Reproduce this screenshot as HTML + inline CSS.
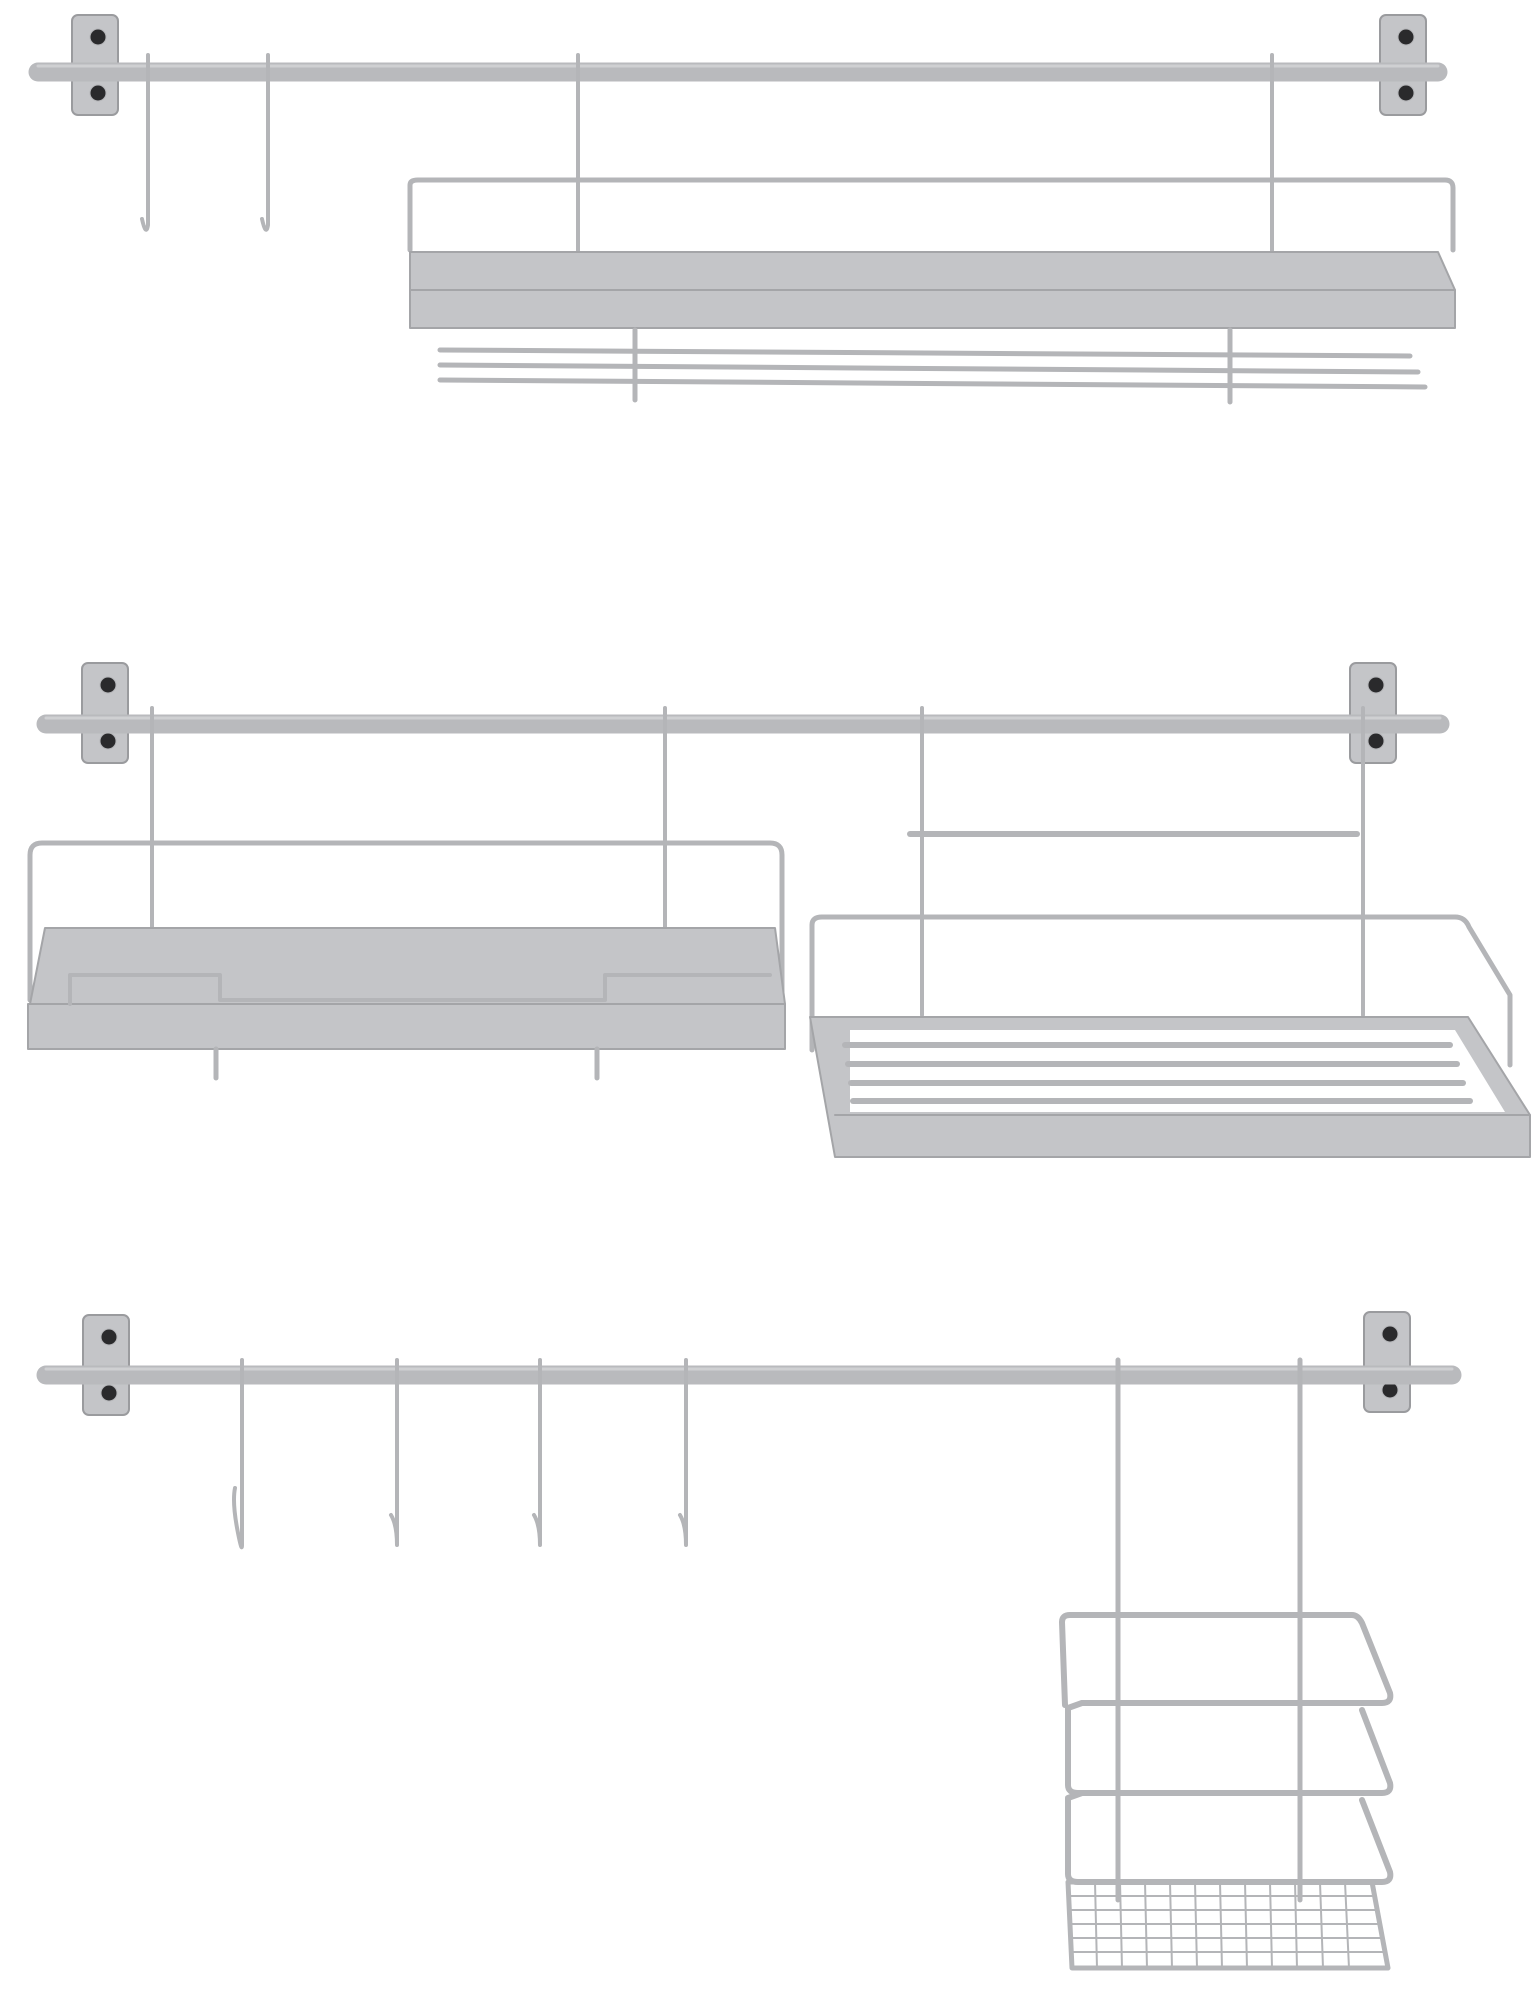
<!DOCTYPE html>
<html><head><style>html,body{margin:0;padding:0;background:#fff}svg{display:block}</style></head>
<body>
<svg width="1538" height="2000" viewBox="0 0 1538 2000" xmlns="http://www.w3.org/2000/svg">
<defs>
<g id="bracket">
<rect x="0" y="0" width="46" height="100" rx="6" fill="#c4c5c8" stroke="#9a9b9e" stroke-width="2"/>
<circle cx="26" cy="22" r="8" fill="#2a2a2c"/>
<circle cx="26" cy="78" r="8" fill="#2a2a2c"/>
</g>
</defs>
<g fill="none" stroke="#b4b5b8" stroke-linecap="round" stroke-linejoin="round">

<!-- ===== TOP ===== -->
<use href="#bracket" x="72" y="15"/>
<use href="#bracket" x="1380" y="15"/>
<line x1="38" y1="72" x2="1438" y2="72" stroke-width="19" stroke="#b9babd"/>
<line x1="38" y1="66" x2="1438" y2="66" stroke-width="3" stroke="#cfd0d2"/>
<path d="M148 55 V225 q-2 12 -6 -6" stroke-width="4"/>
<path d="M268 55 V225 q-2 12 -6 -6" stroke-width="4"/>
<path d="M578 55 V252" stroke-width="4"/>
<path d="M1272 55 V252" stroke-width="4"/>
<path d="M410 250 V185 q0 -5 8 -5 H1445 q8 0 8 8 V250" stroke-width="5"/>
<path d="M410 252 H1438 L1455 290 V328 H410 Z" fill="#c4c5c8" stroke="#a4a5a8" stroke-width="2"/>
<line x1="410" y1="290" x2="1455" y2="290" stroke="#a4a5a8" stroke-width="2"/>
<line x1="440" y1="350" x2="1410" y2="356" stroke-width="5"/>
<line x1="440" y1="365" x2="1418" y2="372" stroke-width="5"/>
<line x1="440" y1="380" x2="1425" y2="387" stroke-width="5"/>
<path d="M635 330 V400 M1230 330 V402" stroke-width="5"/>

<!-- ===== MIDDLE ===== -->
<use href="#bracket" x="82" y="663"/>
<use href="#bracket" x="1350" y="663"/>
<line x1="46" y1="724" x2="1440" y2="724" stroke-width="19" stroke="#b9babd"/>
<line x1="46" y1="718" x2="1440" y2="718" stroke-width="3" stroke="#cfd0d2"/>
<path d="M152 708 V1000 M665 708 V1000 M922 708 V1015 M1363 708 V1015" stroke-width="4"/>
<path d="M30 1000 V855 q0 -12 12 -12 H770 q12 0 12 12 V1000" stroke-width="5"/>
<path d="M45 928 H775 L785 1004 H30 Z" fill="#c4c5c8" stroke="#a4a5a8" stroke-width="2"/>
<rect x="28" y="1004" width="757" height="45" fill="#c4c5c8" stroke="#a4a5a8" stroke-width="2"/>
<path d="M70 1004 V975 H220 V1000 H605 V975 H770" stroke-width="4"/>
<path d="M216 1049 V1078 M597 1049 V1078" stroke-width="5"/>
<line x1="910" y1="834" x2="1357" y2="834" stroke-width="6"/>
<path d="M812 1050 V925 q0 -8 10 -8 H1455 q10 0 14 10 L1510 995 V1065" stroke-width="5"/>
<path d="M810 1017 H1468 L1530 1115 V1157 H835 Z" fill="#c4c5c8" stroke="#a4a5a8" stroke-width="2"/>
<path d="M850 1030 H1455 L1505 1112 H850 Z" fill="#fff" stroke="none"/>
<line x1="835" y1="1115" x2="1530" y2="1115" stroke="#a4a5a8" stroke-width="2"/>
<g stroke-width="6">
<line x1="845" y1="1045" x2="1450" y2="1045"/>
<line x1="848" y1="1064" x2="1457" y2="1064"/>
<line x1="851" y1="1083" x2="1463" y2="1083"/>
<line x1="853" y1="1101" x2="1470" y2="1101"/>
</g>

<!-- ===== BOTTOM ===== -->
<use href="#bracket" x="83" y="1315"/>
<use href="#bracket" x="1364" y="1312"/>
<line x1="46" y1="1375" x2="1452" y2="1375" stroke-width="19" stroke="#b9babd"/>
<line x1="46" y1="1369" x2="1452" y2="1369" stroke-width="3" stroke="#cfd0d2"/>
<path d="M242 1360 V1545 q0 8 -4 -12 q-6 -30 -3 -45" stroke-width="4"/>
<path d="M397 1360 V1545 q0 -20 -6 -30" stroke-width="4"/>
<path d="M540 1360 V1545 q0 -20 -6 -30" stroke-width="4"/>
<path d="M686 1360 V1545 q0 -20 -6 -30" stroke-width="4"/>
<path d="M1118 1360 V1900 M1300 1360 V1900" stroke-width="5"/>
<g stroke-width="6">
<path d="M1065 1705 L1062 1622 q0 -7 8 -7 H1352 q6 0 10 8 L1390 1693 q2 10 -8 10 H1082"/>
<path d="M1082 1703 L1068 1708 V1785 q0 8 10 8 H1382 q10 0 8 -10 L1362 1710"/>
<path d="M1082 1793 L1068 1798 V1874 q0 8 10 8 H1382 q10 0 8 -10 L1362 1800"/>
</g>
<path d="M1068 1882 H1372 L1388 1968 H1072 Z" stroke-width="5"/>
<g stroke-width="2">
<line x1="1070" y1="1896" x2="1375" y2="1896"/>
<line x1="1070" y1="1910" x2="1378" y2="1910"/>
<line x1="1070" y1="1924" x2="1380" y2="1924"/>
<line x1="1070" y1="1938" x2="1383" y2="1938"/>
<line x1="1070" y1="1952" x2="1386" y2="1952"/>
<line x1="1095" y1="1882" x2="1097" y2="1968"/>
<line x1="1120" y1="1882" x2="1122" y2="1968"/>
<line x1="1145" y1="1882" x2="1147" y2="1968"/>
<line x1="1170" y1="1882" x2="1172" y2="1968"/>
<line x1="1195" y1="1882" x2="1197" y2="1968"/>
<line x1="1220" y1="1882" x2="1222" y2="1968"/>
<line x1="1245" y1="1882" x2="1247" y2="1968"/>
<line x1="1270" y1="1882" x2="1272" y2="1968"/>
<line x1="1295" y1="1882" x2="1297" y2="1968"/>
<line x1="1320" y1="1882" x2="1323" y2="1968"/>
<line x1="1345" y1="1882" x2="1349" y2="1968"/>
</g>
</g>
</svg>
</body></html>
